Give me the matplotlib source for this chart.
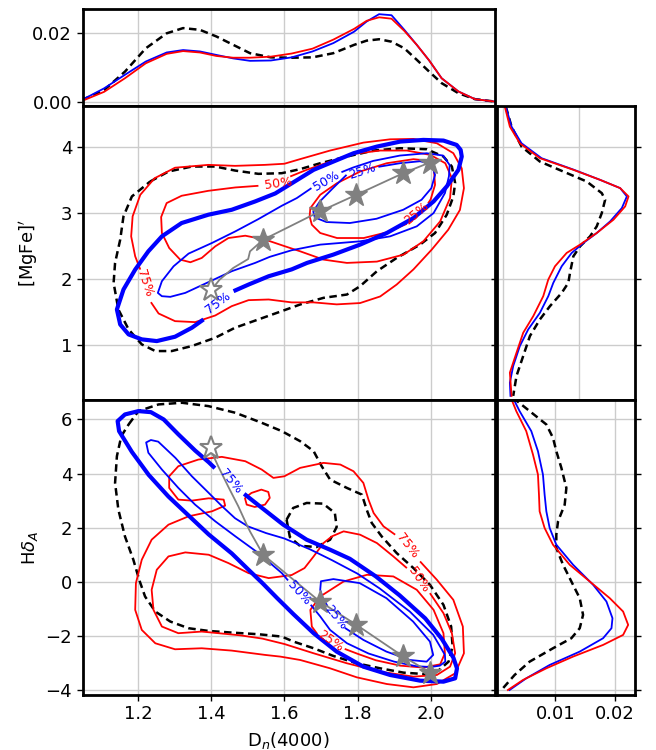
import matplotlib
matplotlib.use("Agg")
import matplotlib.pyplot as plt

# ---------------- data ----------------
# top marginal: D_n(4000) distributions
dn_x = [1.047, 1.107, 1.164, 1.221, 1.278, 1.323, 1.369, 1.414, 1.460, 1.506, 1.563, 1.620, 1.677,
        1.734, 1.791, 1.825, 1.859, 1.893, 1.928, 1.962, 1.996, 2.030, 2.076, 2.121, 2.176]
dn_black = [0.0007, 0.0035, 0.0088, 0.0155, 0.0198, 0.0213, 0.0208, 0.0189, 0.0165, 0.0141, 0.0129, 0.0128,
            0.0129, 0.0141, 0.0165, 0.0177, 0.0181, 0.0174, 0.0155, 0.0122, 0.0088, 0.0055, 0.0026, 0.0009, 0.0002]
dn_blue = [0.0007, 0.0040, 0.0079, 0.0117, 0.0143, 0.0150, 0.0146, 0.0136, 0.0126, 0.0119, 0.0120, 0.0129,
           0.0146, 0.0170, 0.0203, 0.0232, 0.0253, 0.0250, 0.0208, 0.0165, 0.0120, 0.0069, 0.0031, 0.0009, 0.0002]
dn_red = [0.0004, 0.0030, 0.0069, 0.0112, 0.0139, 0.0147, 0.0143, 0.0133, 0.0128, 0.0128, 0.0131, 0.0140,
          0.0154, 0.0180, 0.0211, 0.0234, 0.0244, 0.0240, 0.0205, 0.0165, 0.0120, 0.0069, 0.0031, 0.0009, 0.0002]

# right marginal (top): [MgFe]' distributions
mgm_red_d = [0.00022, 0.00088, 0.00219, 0.00482, 0.00921, 0.01272, 0.01535, 0.01645, 0.01601, 0.01447, 0.01228,
             0.01009, 0.00833, 0.00680, 0.00592, 0.00526, 0.00395, 0.00263, 0.00175, 0.00088, 0.00110]
mgm_red_v = [4.604, 4.302, 4.050, 3.824, 3.648, 3.496, 3.371, 3.245, 3.094, 2.892, 2.691,
             2.515, 2.389, 2.187, 1.986, 1.734, 1.432, 1.180, 0.878, 0.576, 0.224]
mgm_blue_d = [0.00035, 0.00110, 0.00241, 0.00504, 0.00930, 0.01272, 0.01535, 0.01623, 0.01557, 0.01404, 0.01228,
              0.01053, 0.00899, 0.00768, 0.00658, 0.00592, 0.00482, 0.00329, 0.00219, 0.00132, 0.00088, 0.00096]
mgm_blue_v = [4.604, 4.302, 4.050, 3.824, 3.648, 3.496, 3.371, 3.245, 3.068, 2.867, 2.691,
              2.540, 2.389, 2.187, 1.936, 1.734, 1.482, 1.231, 0.979, 0.677, 0.425, 0.224]
mgm_black_d = [0.00035, 0.00110, 0.00241, 0.00482, 0.00789, 0.01096, 0.01294, 0.01338, 0.01294, 0.01228, 0.01140,
               0.01009, 0.00921, 0.00877, 0.00855, 0.00768, 0.00614, 0.00482, 0.00351, 0.00263, 0.00175, 0.00132]
mgm_black_v = [4.604, 4.302, 4.000, 3.773, 3.622, 3.471, 3.295, 3.194, 2.993, 2.792, 2.640,
               2.489, 2.338, 2.087, 1.936, 1.784, 1.583, 1.382, 1.130, 0.828, 0.526, 0.224]

# right marginal (bottom): Hdelta_A distributions
hdm_red_d = [0.00229, 0.00342, 0.00510, 0.00623, 0.00707, 0.00724, 0.00735, 0.00819, 0.00960, 0.01241, 0.01578,
             0.01915, 0.02140, 0.02225, 0.02140, 0.01803, 0.01298, 0.00848, 0.00454, 0.00201]
hdm_red_v = [6.926, 6.309, 5.568, 4.704, 3.963, 3.222, 2.605, 1.988, 1.370, 0.630, 0.012,
             -0.605, -1.099, -1.593, -1.963, -2.333, -2.765, -3.198, -3.630, -4.000]
hdm_blue_d = [0.00257, 0.00398, 0.00595, 0.00707, 0.00791, 0.00819, 0.00848, 0.00904, 0.01016, 0.01298, 0.01635,
              0.01859, 0.01961, 0.01944, 0.01803, 0.01410, 0.00904, 0.00510, 0.00229]
hdm_blue_v = [6.926, 6.309, 5.568, 4.827, 3.963, 3.222, 2.605, 1.988, 1.370, 0.630, -0.111,
              -0.728, -1.346, -1.716, -2.086, -2.580, -3.074, -3.568, -4.000]
hdm_black_d = [0.00286, 0.00567, 0.00848, 0.00960, 0.01016, 0.01101, 0.01185, 0.01157, 0.01045, 0.01016, 0.01016,
               0.01129, 0.01269, 0.01410, 0.01466, 0.01410, 0.01269, 0.00960, 0.00567, 0.00314, 0.00117]
hdm_black_v = [6.802, 6.309, 5.815, 5.321, 4.827, 4.210, 3.469, 2.852, 2.235, 1.741, 1.247,
               0.630, 0.012, -0.605, -1.222, -1.716, -2.086, -2.457, -2.951, -3.444, -3.938]

# ---- [MgFe]' vs Dn4000 contours ----
mg_dash_x = [1.233, 1.283, 1.347, 1.411, 1.465, 1.529, 1.593, 1.643, 1.698, 1.771, 1.844, 1.917, 1.989, 2.035,
             2.058, 2.067, 2.062, 2.044, 2.012, 1.971, 1.907, 1.853, 1.807, 1.771, 1.707, 1.643, 1.593, 1.529,
             1.465, 1.411, 1.347, 1.292, 1.247, 1.210, 1.174, 1.146, 1.133, 1.137, 1.151, 1.160, 1.183, 1.233]
mg_dash_y = [3.471, 3.622, 3.698, 3.698, 3.637, 3.587, 3.597, 3.658, 3.748, 3.849, 3.940, 3.975, 3.960, 3.849,
             3.698, 3.446, 3.245, 2.968, 2.691, 2.515, 2.313, 2.112, 1.885, 1.759, 1.709, 1.608, 1.508, 1.382,
             1.256, 1.105, 0.979, 0.903, 0.903, 1.004, 1.231, 1.533, 1.936, 2.238, 2.590, 2.943, 3.245, 3.471]
mg_b75_x = [1.461, 1.502, 1.557, 1.620, 1.662, 1.734, 1.807, 1.880, 1.953, 2.008, 2.044, 2.076, 2.085, 2.082,
            2.071, 2.035, 1.980, 1.917, 1.853, 1.789, 1.734, 1.680, 1.625, 1.575, 1.520, 1.456, 1.392, 1.319,
            1.265, 1.228, 1.192, 1.160, 1.142, 1.151, 1.174, 1.210, 1.251, 1.301, 1.347, 1.379]
mg_b75_y = [1.810, 1.910, 2.036, 2.140, 2.238, 2.364, 2.515, 2.691, 2.917, 3.169, 3.396, 3.648, 3.849, 3.950,
            4.025, 4.091, 4.101, 4.076, 4.000, 3.899, 3.773, 3.648, 3.460, 3.290, 3.169, 3.043, 2.968, 2.842,
            2.640, 2.414, 2.137, 1.835, 1.533, 1.306, 1.155, 1.080, 1.054, 1.120, 1.256, 1.382]
mg_b50_x = [1.756, 1.788, 1.843, 1.916, 1.989, 2.034, 2.052, 2.050, 2.039, 2.008, 1.962, 1.889, 1.807, 1.698,
            1.620, 1.560, 1.520, 1.456, 1.392, 1.329, 1.288, 1.265, 1.254, 1.265, 1.297, 1.338, 1.402, 1.466,
            1.529, 1.593, 1.634, 1.674]
mg_b50_y = [3.612, 3.683, 3.783, 3.864, 3.899, 3.864, 3.720, 3.550, 3.295, 2.993, 2.792, 2.640, 2.565, 2.515,
            2.430, 2.330, 2.238, 2.112, 1.946, 1.784, 1.724, 1.734, 1.784, 1.961, 2.187, 2.379, 2.540, 2.716,
            2.902, 3.104, 3.220, 3.371]
mg_b25_x = [1.857, 1.916, 1.971, 2.002, 2.012, 2.002, 1.975, 1.925, 1.852, 1.779, 1.715, 1.683, 1.679, 1.697,
            1.733, 1.770]
mg_b25_y = [3.693, 3.748, 3.778, 3.733, 3.572, 3.371, 3.194, 3.043, 2.907, 2.842, 2.857, 2.927, 3.018, 3.169,
            3.371, 3.572]
mg_r75_x = [1.235, 1.256, 1.301, 1.356, 1.411, 1.456, 1.502, 1.557, 1.620, 1.680, 1.743, 1.807, 1.862, 1.907,
            1.953, 2.003, 2.048, 2.080, 2.091, 2.085, 2.062, 2.017, 1.953, 1.889, 1.816, 1.725, 1.643, 1.600,
            1.547, 1.465, 1.392, 1.301, 1.245, 1.206, 1.185, 1.181, 1.192, 1.206]
mg_r75_y = [1.643, 1.472, 1.356, 1.341, 1.442, 1.583, 1.674, 1.684, 1.640, 1.640, 1.610, 1.630, 1.730, 1.910,
            2.140, 2.440, 2.740, 3.040, 3.370, 3.670, 3.900, 4.050, 4.116, 4.110, 4.060, 3.940, 3.810, 3.740,
            3.723, 3.708, 3.723, 3.680, 3.520, 3.270, 2.943, 2.640, 2.338, 2.137]
mg_r50_x = [1.529, 1.466, 1.392, 1.319, 1.278, 1.263, 1.265, 1.285, 1.315, 1.343, 1.374, 1.411, 1.447, 1.493,
            1.548, 1.602, 1.643, 1.707, 1.771, 1.853, 1.926, 1.980, 2.026, 2.053, 2.058, 2.040, 1.999, 1.935,
            1.862, 1.789, 1.725, 1.661, 1.616]
mg_r50_y = [3.406, 3.381, 3.330, 3.255, 3.144, 2.933, 2.691, 2.464, 2.288, 2.248, 2.313, 2.489, 2.615, 2.650,
            2.590, 2.489, 2.414, 2.288, 2.238, 2.258, 2.364, 2.565, 2.867, 3.220, 3.522, 3.748, 3.874, 3.940,
            3.940, 3.889, 3.773, 3.648, 3.547]
mg_r25_x = [1.935, 1.880, 1.817, 1.744, 1.698, 1.675, 1.669, 1.671, 1.698, 1.744, 1.807, 1.880, 1.953, 1.989,
            2.009, 2.012, 2.000, 1.993]
mg_r25_y = [2.830, 2.701, 2.615, 2.615, 2.691, 2.817, 2.943, 3.068, 3.270, 3.446, 3.622, 3.748, 3.809, 3.789,
            3.648, 3.421, 3.200, 3.140]

# ---- Hdelta_A vs Dn4000 contours ----
hd_dash_x = [1.174, 1.201, 1.256, 1.320, 1.392, 1.466, 1.538, 1.593, 1.643, 1.680, 1.702, 1.725, 1.771, 1.812,
             1.825, 1.839, 1.866, 1.907, 1.953, 1.998, 2.035, 2.056, 2.060, 2.049, 2.021, 1.980, 1.926, 1.862,
             1.798, 1.734, 1.680, 1.625, 1.593, 1.529, 1.456, 1.392, 1.338, 1.288, 1.247, 1.219, 1.203, 1.187,
             1.164, 1.146, 1.137, 1.142, 1.154, 1.174]
hd_dash_y = [5.815, 6.309, 6.556, 6.617, 6.494, 6.247, 5.877, 5.568, 5.198, 4.827, 4.272, 3.778, 3.469, 3.222,
             2.667, 2.173, 1.679, 1.062, 0.506, -0.111, -0.852, -1.654, -2.395, -2.951, -3.284, -3.407, -3.358,
             -3.198, -3.012, -2.741, -2.457, -2.210, -2.025, -1.938, -1.877, -1.815, -1.716, -1.469, -1.099,
             -0.543, 0.074, 0.815, 1.679, 2.667, 3.654, 4.642, 5.383, 5.815]
hd_dash2_x = [1.606, 1.624, 1.661, 1.706, 1.738, 1.743, 1.725, 1.688, 1.642, 1.615, 1.606]
hd_dash2_y = [2.296, 2.728, 2.914, 2.889, 2.543, 2.025, 1.556, 1.284, 1.333, 1.654, 2.296]
hd_b75_x = [1.490, 1.533, 1.597, 1.661, 1.725, 1.779, 1.850, 1.915, 1.985, 2.030, 2.062, 2.072, 2.067, 2.035,
            1.971, 1.889, 1.816, 1.743, 1.680, 1.625, 1.580, 1.540, 1.502, 1.456, 1.393, 1.338, 1.283, 1.229,
            1.183, 1.148, 1.144, 1.164, 1.201, 1.235, 1.270, 1.310, 1.356, 1.393, 1.410]
hd_b75_y = [3.250, 2.790, 2.111, 1.556, 1.185, 0.850, 0.200, -0.500, -1.350, -2.100, -2.800, -3.200, -3.568,
            -3.691, -3.654, -3.444, -3.136, -2.580, -1.901, -1.200, -0.600, -0.050, 0.444, 1.050, 1.750, 2.450,
            3.150, 3.950, 4.800, 5.568, 5.938, 6.185, 6.309, 6.270, 6.000, 5.450, 4.850, 4.420, 4.200]
hd_b50_x = [1.672, 1.698, 1.725, 1.771, 1.830, 1.900, 1.960, 2.000, 2.025, 2.040, 2.039, 2.007, 1.943, 1.861,
            1.800, 1.730, 1.670, 1.600, 1.550, 1.500, 1.465, 1.429, 1.392, 1.347, 1.302, 1.255, 1.235, 1.222,
            1.228, 1.265, 1.310, 1.356, 1.411, 1.466, 1.529, 1.593, 1.610]
hd_b50_y = [-0.85, -1.28, -1.78, -2.27, -2.65, -2.95, -3.12, -3.15, -3.10, -2.95, -2.70, -1.96, -1.10, -0.25,
            0.30, 0.80, 1.20, 1.60, 1.80, 2.05, 2.35, 2.80, 3.30, 3.90, 4.58, 5.18, 5.24, 5.15, 4.77, 4.15, 3.47,
            2.85, 2.235, 1.68, 1.062, 0.321, 0.05]
hd_b25_x = [1.765, 1.816, 1.879, 1.943, 1.989, 2.007, 1.998, 1.952, 1.879, 1.806, 1.734, 1.700, 1.698, 1.705,
            1.718]
hd_b25_y = [-1.70, -2.148, -2.58, -2.889, -2.951, -2.704, -2.210, -1.469, -0.605, -0.049, 0.10, 0.02, -0.30,
            -0.60, -0.90]
hd_r75_x = [1.971, 2.017, 2.062, 2.088, 2.091, 2.067, 2.017, 1.953, 1.880, 1.798, 1.725, 1.643, 1.589, 1.548,
            1.456, 1.374, 1.301, 1.247, 1.210, 1.192, 1.194, 1.210, 1.237, 1.283, 1.338, 1.402, 1.438, 1.434,
            1.393, 1.347, 1.310, 1.285, 1.285, 1.310, 1.365, 1.429, 1.493, 1.538, 1.570, 1.600, 1.643, 1.707,
            1.753, 1.789, 1.816, 1.830, 1.844, 1.871, 1.903]
hd_r75_y = [0.753, 0.074, -0.667, -1.654, -2.642, -3.383, -3.778, -3.901, -3.778, -3.531, -3.198, -2.889,
            -2.765, -2.704, -2.543, -2.457, -2.494, -2.272, -1.778, -1.037, -0.049, 0.815, 1.556, 2.111, 2.420,
            2.605, 2.815, 3.037, 3.086, 3.000, 3.037, 3.469, 3.901, 4.272, 4.519, 4.617, 4.457, 4.148, 3.840,
            3.900, 4.210, 4.395, 4.333, 4.086, 3.654, 3.037, 2.543, 2.049, 1.741]
hd_r50_x = [1.998, 2.035, 2.058, 2.067, 2.053, 2.017, 1.953, 1.862, 1.771, 1.680, 1.600, 1.540, 1.480, 1.420,
            1.374, 1.310, 1.265, 1.242, 1.237, 1.251, 1.283, 1.329, 1.393, 1.447, 1.502, 1.557, 1.620, 1.655,
            1.680, 1.707, 1.730, 1.762, 1.807, 1.853, 1.898, 1.935]
hd_r50_y = [-0.42, -1.16, -1.90, -2.64, -3.136, -3.444, -3.506, -3.321, -3.012, -2.642, -2.30, -2.10, -1.98,
            -1.90, -1.84, -1.90, -1.654, -1.037, -0.296, 0.444, 0.938, 1.086, 1.0, 0.691, 0.321, 0.136, 0.25,
            0.506, 0.938, 1.432, 1.679, 1.864, 1.741, 1.432, 0.938, 0.506]
hd_r25_x = [1.765, 1.800, 1.850, 1.917, 1.980, 2.026, 2.039, 2.035, 2.008, 1.962, 1.898, 1.826, 1.762, 1.698,
            1.671, 1.675, 1.690]
hd_r25_y = [-2.48, -2.66, -2.90, -3.10, -3.17, -3.05, -2.642, -1.901, -1.037, -0.296, 0.198, 0.259, 0.012,
            -0.543, -1.037, -1.654, -1.93]
hd_rloop_x = [1.492, 1.510, 1.537, 1.556, 1.560, 1.547, 1.519, 1.497, 1.492]
hd_rloop_y = [3.099, 3.284, 3.407, 3.321, 3.099, 2.852, 2.765, 2.852, 3.099]

# model track and stars
mg_track_x = [1.401, 1.423, 1.460, 1.501, 1.506, 1.542, 1.606, 1.697, 1.797, 1.925, 1.993]
mg_track_y = [1.834, 1.985, 2.161, 2.297, 2.413, 2.589, 2.766, 3.018, 3.270, 3.597, 3.748]
hd_track_x = [1.396, 1.419, 1.446, 1.474, 1.497, 1.506, 1.524, 1.542, 1.697, 1.797, 1.925, 2.002]
hd_track_y = [4.95, 4.27, 3.53, 2.79, 2.11, 1.86, 1.43, 1.00, -0.73, -1.59, -2.76, -3.38]
star_x = [1.400, 1.542, 1.697, 1.797, 1.925, 1.997]
star_mg = [1.834, 2.589, 3.018, 3.270, 3.597, 3.748]
star_hd = [4.95, 1.00, -0.73, -1.59, -2.76, -3.38]

# contour labels: (text, x, y, rotation, colour)
mg_labels = [("50%", 1.584, 3.436, 8, "red"), ("75%", 1.218, 1.925, -72, "red"),
             ("25%", 1.962, 2.993, 40, "red"), ("50%", 1.715, 3.486, 30, "blue"),
             ("25%", 1.814, 3.632, 18, "blue"), ("75%", 1.420, 1.633, 37, "blue")]
hd_labels = [("75%", 1.454, 3.716, -50, "blue"), ("50%", 1.639, -0.42, -48, "blue"),
             ("25%", 1.741, -1.33, -50, "blue"), ("75%", 1.935, 1.309, -52, "red"),
             ("50%", 1.968, 0.074, -56, "red"), ("25%", 1.727, -2.20, -35, "red")]

# ---------------- figure ----------------
plt.rcParams['font.family'] = ['DejaVu Sans']
plt.rcParams['lines.solid_joinstyle'] = 'round'
plt.rcParams['lines.dash_joinstyle'] = 'round'
fig = plt.figure(figsize=(6.56, 7.5), dpi=100)

L, W = 0.1258, 0.6288
RL, RW = 0.7569, 0.2111
ax_top = fig.add_axes([L, 0.8587, W, 0.1289])
ax_mg = fig.add_axes([L, 0.4667, W, 0.3920])
ax_hd = fig.add_axes([L, 0.0733, W, 0.3934])
ax_rmg = fig.add_axes([RL, 0.4667, RW, 0.3920])
ax_rhd = fig.add_axes([RL, 0.0733, RW, 0.3934])

XL = (1.048, 2.176)
TFS = 13
LW_THIN = 1.3
LW_THICK = 3.0
DASH = dict(color='black', lw=1.8, dashes=(3.0, 1.8))

for ax in (ax_top, ax_mg, ax_hd, ax_rmg, ax_rhd):
    ax.grid(True, color='0.8', lw=1.0)
    ax.set_axisbelow(True)
    for s in ax.spines.values():
        s.set_linewidth(2.0)
    ax.tick_params(labelsize=TFS, width=1.0, length=4)

# top marginal
ax_top.plot(dn_x, dn_black, **DASH)
ax_top.plot(dn_x, dn_blue, color='blue', lw=1.3)
ax_top.plot(dn_x, dn_red, color='red', lw=1.3)
ax_top.set_xlim(*XL)
ax_top.set_ylim(-0.00106, 0.0267)
ax_top.set_yticks([0.0, 0.02])
ax_top.set_yticklabels(["0.00", "0.02"])
ax_top.set_xticks([1.2, 1.4, 1.6, 1.8, 2.0])
ax_top.tick_params(axis='x', labelbottom=False, length=0)


def draw(ax, xs, ys, color, lw, z):
    ax.plot(xs, ys, color=color, lw=lw, zorder=z, solid_capstyle='butt')


# middle main panel
ax_mg.plot(mg_dash_x, mg_dash_y, zorder=2, **DASH)
draw(ax_mg, mg_r75_x, mg_r75_y, 'red', LW_THIN, 3)
draw(ax_mg, mg_r50_x, mg_r50_y, 'red', LW_THIN, 3)
draw(ax_mg, mg_r25_x, mg_r25_y, 'red', LW_THIN, 3)
draw(ax_mg, mg_b75_x, mg_b75_y, 'blue', LW_THICK, 4)
draw(ax_mg, mg_b50_x, mg_b50_y, 'blue', LW_THIN, 4)
draw(ax_mg, mg_b25_x, mg_b25_y, 'blue', LW_THIN, 4)
ax_mg.plot(mg_track_x, mg_track_y, color='gray', lw=1.3, zorder=5)
ax_mg.plot(star_x[1:], star_mg[1:], ls='none', marker='*', ms=17, color='gray', zorder=6)
ax_mg.plot(star_x[:1], star_mg[:1], ls='none', marker='*', ms=17, mfc='white', mec='gray', mew=1.5, zorder=6)
for t, x, y, r, c in mg_labels:
    ax_mg.text(x, y, t, color=c, fontsize=9, rotation=r, ha='center', va='center',
               rotation_mode='anchor', zorder=7)
ax_mg.set_xlim(*XL)
ax_mg.set_ylim(0.162, 4.615)
ax_mg.set_yticks([1, 2, 3, 4])
ax_mg.set_xticks([1.2, 1.4, 1.6, 1.8, 2.0])
ax_mg.tick_params(axis='x', labelbottom=False, length=0)
ax_mg.set_ylabel("[MgFe]$'$", fontsize=TFS)
ax_mg.yaxis.set_label_coords(-0.102, 0.5)

# bottom main panel
ax_hd.plot(hd_dash_x, hd_dash_y, zorder=2, **DASH)
ax_hd.plot(hd_dash2_x, hd_dash2_y, zorder=2, **DASH)
draw(ax_hd, hd_r75_x, hd_r75_y, 'red', LW_THIN, 3)
draw(ax_hd, hd_r50_x, hd_r50_y, 'red', LW_THIN, 3)
draw(ax_hd, hd_r25_x, hd_r25_y, 'red', LW_THIN, 3)
draw(ax_hd, hd_rloop_x, hd_rloop_y, 'red', LW_THIN, 3)
draw(ax_hd, hd_b75_x, hd_b75_y, 'blue', LW_THICK, 4)
draw(ax_hd, hd_b50_x, hd_b50_y, 'blue', LW_THIN, 4)
draw(ax_hd, hd_b25_x, hd_b25_y, 'blue', LW_THIN, 4)
ax_hd.plot(hd_track_x, hd_track_y, color='gray', lw=1.3, zorder=5)
ax_hd.plot(star_x[1:], star_hd[1:], ls='none', marker='*', ms=17, color='gray', zorder=6)
ax_hd.plot(star_x[:1], star_hd[:1], ls='none', marker='*', ms=17, mfc='white', mec='gray', mew=1.5, zorder=6)
for t, x, y, r, c in hd_labels:
    ax_hd.text(x, y, t, color=c, fontsize=9, rotation=r, ha='center', va='center',
               rotation_mode='anchor', zorder=7)
ax_hd.set_xlim(*XL)
ax_hd.set_ylim(-4.185, 6.72)
ax_hd.set_yticks([-4, -2, 0, 2, 4, 6])
ax_hd.set_xticks([1.2, 1.4, 1.6, 1.8, 2.0])
ax_hd.set_xticklabels(["1.2", "1.4", "1.6", "1.8", "2.0"])
ax_hd.set_ylabel(r"H$\delta_A$", fontsize=TFS)
ax_hd.yaxis.set_label_coords(-0.102, 0.5)
ax_hd.set_xlabel(r"D$_n$(4000)", fontsize=TFS)
ax_hd.xaxis.set_label_coords(0.5, -0.118)

# right marginals
ax_rmg.plot(mgm_black_d, mgm_black_v, **DASH)
ax_rmg.plot(mgm_blue_d, mgm_blue_v, color='blue', lw=1.3)
ax_rmg.plot(mgm_red_d, mgm_red_v, color='red', lw=1.3)
ax_rmg.set_ylim(0.162, 4.615)
ax_rmg.set_xlim(-0.00087, 0.0173)
ax_rmg.set_yticks([1, 2, 3, 4])
ax_rmg.set_xticks([0.0, 0.01])
ax_rmg.tick_params(labelleft=False, labelbottom=False, right=True)
ax_rmg.tick_params(axis='x', length=0)

ax_rhd.plot(hdm_black_d, hdm_black_v, **DASH)
ax_rhd.plot(hdm_blue_d, hdm_blue_v, color='blue', lw=1.3)
ax_rhd.plot(hdm_red_d, hdm_red_v, color='red', lw=1.3)
ax_rhd.set_ylim(-4.185, 6.72)
ax_rhd.set_xlim(0.0001, 0.0234)
ax_rhd.set_yticks([-4, -2, 0, 2, 4, 6])
ax_rhd.set_xticks([0.01, 0.02])
ax_rhd.set_xticklabels(["0.01", "0.02"])
ax_rhd.tick_params(labelleft=False, right=True)

fig.savefig("out.png", dpi=100)
